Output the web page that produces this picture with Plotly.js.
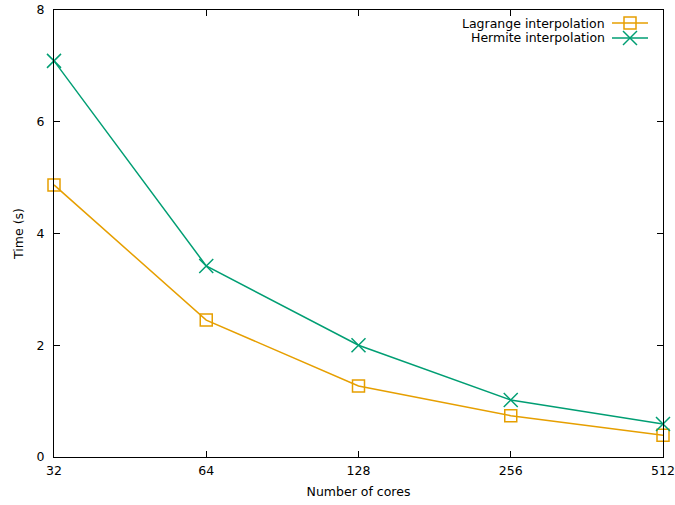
<!DOCTYPE html>
<html>
<head>
<meta charset="utf-8">
<script src="https://cdn.plot.ly/plotly-3.0.1.min.js"></script>
<style>html,body{margin:0;padding:0;background:#fff;}#chart{width:675px;height:505px;}</style>
</head>
<body>
<div id="chart"></div>
<script>
const cores = [32, 64, 128, 256, 512];
const lagrange = [4.87, 2.45, 1.27, 0.74, 0.39];
const hermite = [7.09, 3.42, 2.00, 1.02, 0.59];
const yTicks = [0, 2, 4, 6, 8];
const seriesNames = ['Lagrange interpolation', 'Hermite interpolation'];

const orange = '#E69F00', green = '#009E73';
const font = {family: 'DejaVu Sans, sans-serif', size: 12.5, color: '#000'};

const traces = [
  {x: cores, y: lagrange, name: seriesNames[0], mode: 'lines+markers', type: 'scatter', cliponaxis: false,
   line: {color: orange, width: 1.5},
   marker: {symbol: 'square-open', size: 12, color: orange, line: {color: orange, width: 1.5}}},
  {x: cores, y: hermite, name: seriesNames[1], mode: 'lines+markers', type: 'scatter', cliponaxis: false,
   line: {color: green, width: 1.5},
   marker: {symbol: 'x-thin-open', size: 14, color: green, line: {color: green, width: 1.5}}}
];

// manual gnuplot-style legend (text then sample on the right)
const L = 54, R = 663, T = 10, B = 457;
const px = v => (v - L) / (R - L);
const py = v => (B - v) / (B - T);
const legendY = [23, 38];
const colors = [orange, green];
const shapes = [];
const annotations = [];
legendY.forEach((yy, i) => {
  annotations.push({xref: 'paper', yref: 'paper', x: px(607), y: py(yy), xanchor: 'right', yanchor: 'middle',
    text: seriesNames[i], showarrow: false, font: font});
  shapes.push({type: 'line', xref: 'paper', yref: 'paper', x0: px(612), x1: px(648), y0: py(yy), y1: py(yy),
    line: {color: colors[i], width: 1.5}});
  const cx = 630;
  if (i === 0) {
    shapes.push({type: 'rect', xref: 'paper', yref: 'paper', x0: px(cx - 6), x1: px(cx + 6), y0: py(yy + 6), y1: py(yy - 6),
      line: {color: colors[i], width: 1.5}});
  } else {
    shapes.push({type: 'line', xref: 'paper', yref: 'paper', x0: px(cx - 7), x1: px(cx + 7), y0: py(yy + 7), y1: py(yy - 7),
      line: {color: colors[i], width: 1.5}});
    shapes.push({type: 'line', xref: 'paper', yref: 'paper', x0: px(cx - 7), x1: px(cx + 7), y0: py(yy - 7), y1: py(yy + 7),
      line: {color: colors[i], width: 1.5}});
  }
});

const eps = 1e-6;
const layout = {
  width: 675, height: 505,
  margin: {l: L, r: 675 - R, t: T, b: 505 - B},
  paper_bgcolor: '#fff', plot_bgcolor: '#fff',
  showlegend: false,
  font: font,
  xaxis: {type: 'log', range: [Math.log10(32) - eps, Math.log10(512) + eps], tickvals: cores, ticktext: cores.map(String),
    ticks: 'inside', ticklen: 6, tickwidth: 1, tickcolor: '#000', showline: true, linecolor: '#000', linewidth: 1,
    mirror: 'ticks', showgrid: false, zeroline: false, tickfont: font, ticklabelstandoff: 2,
    title: {text: 'Number of cores', font: font, standoff: 10}},
  yaxis: {range: [0, 8], tickvals: yTicks, ticks: 'inside', ticklen: 6, tickwidth: 1, tickcolor: '#000',
    showline: true, linecolor: '#000', linewidth: 1, mirror: 'ticks', showgrid: false, zeroline: false, tickfont: font,
    ticklabelstandoff: 6,
    title: {text: 'Time (s)', font: font, standoff: 10}},
  shapes: shapes,
  annotations: annotations
};

Plotly.newPlot('chart', traces, layout, {displayModeBar: false, staticPlot: true});
</script>
</body>
</html>
